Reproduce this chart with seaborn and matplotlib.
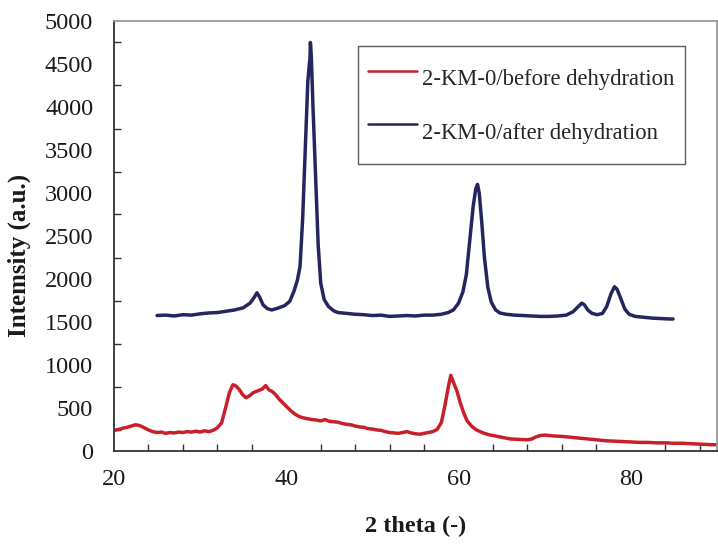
import matplotlib
matplotlib.use("Agg")
import matplotlib.pyplot as plt
from matplotlib.ticker import MultipleLocator
import seaborn as sns
import pandas as pd

# ---- data ----
after_theta = [25.0, 26.0, 27.0, 28.0, 29.0, 30.0, 31.0, 32.0, 33.0, 34.0, 35.0, 35.8, 36.3, 36.6,
               36.9, 37.3, 37.8, 38.3, 39.0, 39.8, 40.4, 40.9, 41.3, 41.6, 41.9, 42.2, 42.5, 42.7,
               42.75, 42.8, 42.9, 43.1, 43.4, 43.7, 44.0, 44.4, 44.9, 45.5, 46.0, 47.0, 48.0, 49.0,
               50.0, 51.0, 52.0, 53.0, 54.0, 55.0, 56.0, 57.0, 58.0, 58.8, 59.4, 60.0, 60.5, 60.9,
               61.3, 61.7, 62.0, 62.2, 62.4, 62.7, 63.0, 63.4, 63.8, 64.3, 64.8, 65.5, 66.5, 67.5,
               68.5, 69.5, 70.5, 71.5, 72.5, 73.3, 73.9, 74.3, 74.6, 75.0, 75.5, 76.1, 76.7, 77.2,
               77.7, 78.1, 78.4, 78.8, 79.3, 79.8, 80.5, 81.5, 82.5, 83.5, 84.5, 84.9]
after_int = [1575, 1580, 1570, 1585, 1580, 1595, 1605, 1610, 1625, 1640, 1665, 1720, 1790, 1840,
             1790, 1700, 1655, 1640, 1660, 1690, 1740, 1860, 1990, 2150, 2700, 3500, 4300, 4520,
             4560, 4750, 4600, 4000, 3200, 2400, 1950, 1760, 1680, 1630, 1610, 1600, 1590, 1585,
             1575, 1580, 1565, 1570, 1575, 1570, 1580, 1580, 1590, 1610, 1640, 1720, 1850, 2050,
             2450, 2850, 3050, 3100, 3000, 2650, 2250, 1900, 1730, 1640, 1605, 1590, 1580, 1575,
             1570, 1565, 1565, 1570, 1580, 1620, 1680, 1720, 1700, 1640, 1600, 1585, 1600, 1680,
             1830, 1910, 1880, 1780, 1650, 1590, 1565, 1555, 1545, 1540, 1535, 1535]

before_theta = [20.0, 20.5, 21.0, 21.5, 22.0, 22.5, 23.0, 23.5, 24.0, 24.5, 25.0, 25.5, 26.0, 26.5,
                27.0, 27.5, 28.0, 28.5, 29.0, 29.5, 30.0, 30.5, 31.0, 31.5, 32.0, 32.5, 33.0, 33.4,
                33.8, 34.1, 34.5, 34.9, 35.3, 35.7, 36.2, 36.7, 37.2, 37.6, 38.0, 38.4, 38.8, 39.2,
                39.6, 40.0, 40.5, 41.0, 41.5, 42.0, 42.5, 43.0, 43.5, 44.0, 44.5, 45.0, 45.5, 46.0,
                46.5, 47.0, 47.5, 48.0, 48.5, 49.0, 49.5, 50.0, 50.5, 51.0, 51.5, 52.0, 52.5, 53.0,
                53.5, 54.0, 54.5, 55.0, 55.5, 56.0, 56.5, 57.0, 57.5, 58.0, 58.4, 58.8, 59.1, 59.4,
                59.8, 60.2, 60.6, 61.0, 61.5, 62.0, 62.5, 63.0, 63.5, 64.0, 65.0, 66.0, 67.0, 68.0,
                68.5, 69.0, 69.5, 70.0, 70.5, 71.0, 72.0, 73.0, 74.0, 75.0, 76.0, 77.0, 78.0, 79.0,
                80.0, 81.0, 82.0, 83.0, 84.0, 85.0, 86.0, 87.0, 88.0, 89.0, 90.0]
before_int = [240, 250, 265, 275, 290, 305, 295, 270, 245, 225, 215, 220, 205, 215,
              210, 220, 215, 225, 220, 230, 220, 235, 225, 240, 270, 330, 520, 680,
              770, 760, 720, 660, 620, 640, 680, 700, 720, 760, 710, 690, 650, 600,
              560, 520, 470, 430, 400, 385, 375, 365, 360, 350, 365, 345, 340, 335,
              320, 310, 305, 290, 280, 275, 260, 255, 245, 240, 225, 215, 210, 205,
              215, 225, 210, 200, 195, 205, 215, 225, 250, 330, 520, 740, 880, 800,
              700, 560, 440, 350, 290, 250, 225, 205, 190, 180, 160, 140, 135, 130,
              140, 165, 180, 185, 180, 175, 170, 160, 150, 140, 130, 120, 115, 110,
              105, 100, 100, 95, 95, 90, 90, 85, 80, 75, 72]

labels = ["2-KM-0/before dehydration", "2-KM-0/after dehydration"]
x_ticks = [20, 40, 60, 80]
y_ticks = [0, 500, 1000, 1500, 2000, 2500, 3000, 3500, 4000, 4500, 5000]

df = pd.concat([
    pd.DataFrame({"theta": before_theta, "I": before_int, "series": labels[0]}),
    pd.DataFrame({"theta": after_theta, "I": after_int, "series": labels[1]}),
], ignore_index=True)

sns.set_style("white")
plt.rcParams["font.family"] = ["Liberation Serif", "DejaVu Serif"]

fig = plt.figure(figsize=(7.18, 5.48), dpi=100)
ax = fig.add_axes([114 / 718, 1 - 451 / 548, (717 - 114) / 718, (451 - 21) / 548])

palette = {labels[0]: "#C8202B", labels[1]: "#25255F"}
sns.lineplot(data=df, x="theta", y="I", hue="series", palette=palette, estimator=None,
             sort=False, linewidth=2.5, ax=ax)

ax.set_xlim(20, 90)
ax.set_ylim(0, 5000)
ax.set_xticks(x_ticks)
ax.set_yticks(y_ticks)
ax.xaxis.set_minor_locator(MultipleLocator(4))
ax.yaxis.set_minor_locator(MultipleLocator(250))
ax.tick_params(which="both", direction="in", length=5, width=1, color="#333333",
               labelsize=17.5, labelcolor="#1a1a1a")
ax.tick_params(axis="y", which="major", pad=15)
ax.tick_params(axis="x", which="major", pad=13)
ax.tick_params(axis="x", which="minor", bottom=True)
ax.tick_params(axis="y", which="minor", left=True)

for side in ["left", "bottom"]:
    ax.spines[side].set_color("#333333")
    ax.spines[side].set_linewidth(1.3)
for side in ["top", "right"]:
    ax.spines[side].set_color("#9a9a9a")
    ax.spines[side].set_linewidth(1.3)

ax.set_xlabel("2 theta (-)", fontsize=17.5, fontweight="bold", color="#1a1a1a")
ax.set_ylabel("Intemsity (a.u.)", fontsize=18, fontweight="bold", color="#1a1a1a")
ax.xaxis.set_label_coords(0.5, -0.15)
ax.yaxis.set_label_coords(-0.137, 0.455)

leg = ax.legend(loc="upper left", bbox_to_anchor=(0.405, 0.942), fontsize=16.3,
                frameon=True, fancybox=False, edgecolor="#333333", handlelength=2.17,
                handleheight=2.7, handletextpad=0.22, labelspacing=0.35, borderpad=0.44,
                borderaxespad=0)
leg.get_frame().set_linewidth(1.0)
for line in leg.get_lines():
    line.set_linewidth(1.8)

fig.savefig("out.png", dpi=100)
